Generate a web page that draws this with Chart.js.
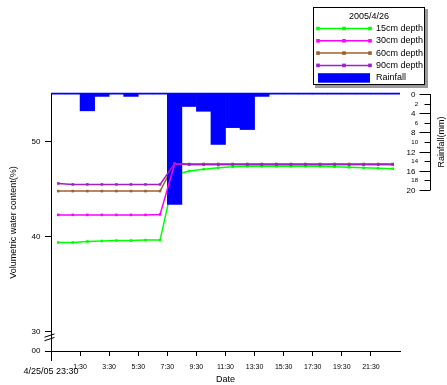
<!DOCTYPE html>
<html>
<head>
<meta charset="utf-8">
<script src="https://cdn.jsdelivr.net/npm/chart.js@4"></script>
<style>
    html, body { margin: 0; padding: 0; background: #fff; }
    canvas { display: block; }
</style>
</head>
<body>
<canvas id="chart" width="447" height="385"></canvas>
<script>
// hour of day on 4/26 for every reading
const hours = [0, 1, 2, 3, 4, 5, 6, 7, 8, 9, 10, 11, 12, 13, 14, 15, 16, 17, 18, 19, 20, 21, 22, 23];

const depth15 = [39.4, 39.4, 39.5, 39.55, 39.6, 39.6, 39.65, 39.65, 46.5, 46.9, 47.1, 47.25, 47.35, 47.4, 47.4, 47.4, 47.4, 47.4, 47.4, 47.35, 47.3, 47.25, 47.2, 47.15];
const depth30 = [42.3, 42.3, 42.3, 42.3, 42.3, 42.3, 42.3, 42.35, 47.65, 47.6, 47.6, 47.6, 47.6, 47.6, 47.6, 47.6, 47.6, 47.6, 47.6, 47.6, 47.6, 47.6, 47.6, 47.6];
const depth60 = [44.8, 44.8, 44.8, 44.8, 44.8, 44.8, 44.8, 44.8, 47.7, 47.65, 47.65, 47.65, 47.65, 47.65, 47.65, 47.65, 47.65, 47.65, 47.65, 47.65, 47.65, 47.65, 47.65, 47.65];
const depth90 = [45.6, 45.5, 45.5, 45.5, 45.5, 45.5, 45.5, 45.5, 47.7, 47.6, 47.6, 47.6, 47.6, 47.6, 47.6, 47.6, 47.6, 47.6, 47.6, 47.6, 47.6, 47.6, 47.6, 47.6];
const rainfall = [0, 0, 3.5, 0.5, 0, 0.5, 0, 0, 23, 2.6, 3.6, 10.5, 7, 7.4, 0.5, 0, 0, 0, 0, 0, 0, 0, 0, 0];

const timeTicks = ['1:30', '3:30', '5:30', '7:30', '9:30', '11:30', '13:30', '15:30', '17:30', '19:30', '21:30'];
const startLabel = '4/25/05 23:30';
const legendTitle = '2005/4/26';
const waterTicks = [28, 30, 40, 50];   // 28 sits at the axis break and reads "00"
const rainTicks = [0, 2, 4, 6, 8, 10, 12, 14, 16, 18, 20];

const FONT = "'Liberation Sans', Arial, sans-serif";
Chart.defaults.font.family = FONT;
Chart.defaults.color = '#000';

function toPoints(values) {
    return hours.map((h, i) => ({ x: h, y: values[i] }));
}

function tickValue(label) {
    const [h, m] = label.split(':').map(Number);
    return h + m / 60;
}

function lineSet(label, values, color, order) {
    return {
        type: 'line',
        label,
        data: toPoints(values),
        yAxisID: 'y',
        borderColor: color,
        backgroundColor: color,
        borderWidth: 1.5,
        pointStyle: 'rect',
        pointRadius: 1.8,
        pointBorderWidth: 0,
        tension: 0,
        order
    };
}

// extra drawing: rain axis on the right, axis break, start label, boxed legend
const decorations = {
    id: 'decorations',
    beforeDatasetsDraw(chart) {
        const { ctx, chartArea, scales } = chart;
        const y0 = scales.rain.getPixelForValue(0);
        ctx.save();
        ctx.strokeStyle = '#0000ff';
        ctx.lineWidth = 1.5;
        ctx.beginPath();
        ctx.moveTo(chartArea.left, y0 - 0.5);
        ctx.lineTo(chartArea.right, y0 - 0.5);
        ctx.stroke();
        ctx.restore();
    },
    afterDraw(chart) {
        const { ctx, chartArea, scales } = chart;
        const rain = scales.rain;
        ctx.save();
        ctx.strokeStyle = '#000';
        ctx.fillStyle = '#000';
        ctx.lineWidth = 1;

        // rainfall axis
        const ax = chartArea.right + 30.5;
        const top = rain.getPixelForValue(rainTicks[0]);
        const bottom = rain.getPixelForValue(rainTicks[rainTicks.length - 1]);
        ctx.beginPath();
        ctx.moveTo(ax, top);
        ctx.lineTo(ax, bottom);
        ctx.stroke();
        ctx.textAlign = 'right';
        ctx.textBaseline = 'middle';
        rainTicks.forEach((v, i) => {
            const major = i % 2 === 0;
            const py = Math.round(rain.getPixelForValue(v)) + 0.5;
            ctx.beginPath();
            ctx.moveTo(ax - (major ? 11 : 6), py);
            ctx.lineTo(ax, py);
            ctx.stroke();
            ctx.font = (major ? 8 : 6) + 'px ' + FONT;
            ctx.fillText(String(v), ax - (major ? 15 : 12.5), py);
        });
        ctx.save();
        ctx.translate(ax + 11.5, (top + bottom) / 2);
        ctx.rotate(-Math.PI / 2);
        ctx.textAlign = 'center';
        ctx.font = '9px ' + FONT;
        ctx.fillText('Rainfall(mm)', 0, 0);
        ctx.restore();

        // break marks on the water content axis, and the long origin tick
        const xa = chartArea.left + 0.5;
        const yb = scales.y.getPixelForValue(29.5);
        ctx.beginPath();
        ctx.moveTo(xa - 7, yb + 0.5);
        ctx.lineTo(xa + 3, yb - 2.8);
        ctx.moveTo(xa - 7, yb + 4);
        ctx.lineTo(xa + 3, yb + 0.7);
        ctx.moveTo(xa, chartArea.bottom);
        ctx.lineTo(xa, chartArea.bottom + 10);
        ctx.stroke();

        ctx.font = '9px ' + FONT;
        ctx.textAlign = 'center';
        ctx.fillText(startLabel, scales.x.getPixelForValue(-0.5), chartArea.bottom + 21);

        // legend
        const bx = 313, by = 7, bw = 112, bh = 78;
        ctx.fillStyle = '#9a9a9a';
        ctx.fillRect(bx + 2, by + 2, bw + 1, bh + 1);
        ctx.fillStyle = '#fff';
        ctx.fillRect(bx, by, bw, bh);
        ctx.strokeStyle = '#000';
        ctx.strokeRect(bx + 0.5, by + 0.5, bw - 1, bh - 1);

        ctx.fillStyle = '#000';
        ctx.fillText(legendTitle, bx + 56, by + 10);
        ctx.textAlign = 'left';
        const x1 = bx + 5, x2 = bx + 57;
        chart.data.datasets.forEach((ds, i) => {
            const ry = by + 21.5 + i * 12.3;
            if (ds.type === 'bar') {
                ctx.fillStyle = ds.backgroundColor;
                ctx.fillRect(x1, ry - 4.5, x2 - x1, 9.5);
            } else {
                ctx.strokeStyle = ds.borderColor;
                ctx.lineWidth = 1.5;
                ctx.beginPath();
                ctx.moveTo(x1, ry);
                ctx.lineTo(x2, ry);
                ctx.stroke();
                ctx.fillStyle = ds.borderColor;
                [x1, (x1 + x2) / 2, x2].forEach(px => ctx.fillRect(px - 1.8, ry - 1.8, 3.6, 3.6));
            }
            ctx.fillStyle = '#000';
            ctx.fillText(ds.label, bx + 63, ry);
        });
        ctx.restore();
    }
};

new Chart(document.getElementById('chart'), {
    type: 'bar',
    data: {
        datasets: [
            lineSet('15cm depth', depth15, '#00ff00', 5),
            lineSet('30cm depth', depth30, '#ff00ff', 2),
            lineSet('60cm depth', depth60, '#a0602c', 4),
            lineSet('90cm depth', depth90, '#a020c8', 1),
            {
                type: 'bar',
                label: 'Rainfall',
                data: toPoints(rainfall),
                yAxisID: 'rain',
                backgroundColor: '#0000ff',
                borderWidth: 0,
                barPercentage: 1,
                categoryPercentage: 1,
                order: 3
            }
        ]
    },
    options: {
        responsive: false,
        animation: false,
        layout: { padding: { top: 94, right: 47, left: 0, bottom: 0 } },
        plugins: {
            legend: { display: false },
            tooltip: { enabled: false }
        },
        scales: {
            x: {
                type: 'linear',
                min: -0.5,
                max: 23.5,
                offset: false,
                afterBuildTicks: scale => {
                    scale.ticks = timeTicks.map(t => ({ value: tickValue(t) }));
                },
                afterFit: scale => { scale.height = 34; },
                ticks: {
                    autoSkip: false,
                    maxRotation: 0,
                    padding: 7,
                    font: { size: 7 },
                    callback: (value, index) => timeTicks[index]
                },
                grid: { drawOnChartArea: false, offset: false, tickLength: 5, tickColor: '#000' },
                border: { color: '#000' },
                title: { display: true, text: 'Date', font: { size: 9 }, padding: { top: 0, bottom: 0 } }
            },
            y: {
                type: 'linear',
                position: 'left',
                min: 28,
                max: 55,
                afterBuildTicks: scale => {
                    scale.ticks = waterTicks.map(v => ({ value: v }));
                },
                afterFit: scale => { scale.width = 51; },
                ticks: {
                    padding: 4.5,
                    font: { size: 8 },
                    callback: v => (v === waterTicks[0] ? '00' : String(v))
                },
                grid: { drawOnChartArea: false, tickLength: 6, tickColor: '#000' },
                border: { color: '#000' },
                title: {
                    display: true,
                    text: 'Volumetric water content(%)',
                    font: { size: 9 },
                    padding: { top: 8, bottom: 0 }
                }
            },
            rain: {
                type: 'linear',
                position: 'right',
                display: false,
                reverse: true,
                min: 0,
                max: 53.5
            }
        }
    },
    plugins: [decorations]
});
</script>
</body>
</html>
